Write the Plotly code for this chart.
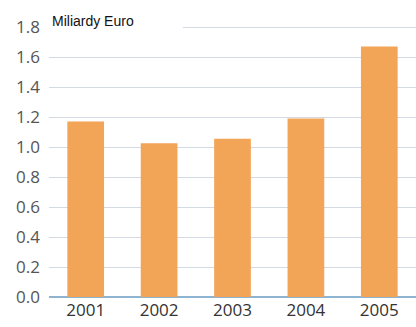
import plotly.graph_objects as go

years = ["2001", "2002", "2003", "2004", "2005"]
values = [1.17, 1.025, 1.055, 1.19, 1.67]
y_ticks = [0.0, 0.2, 0.4, 0.6, 0.8, 1.0, 1.2, 1.4, 1.6, 1.8]
y_tick_labels = ["0.0", "0.2", "0.4", "0.6", "0.8", "1.0", "1.2", "1.4", "1.6", "1.8"]
unit_label = "Miliardy Euro"

fig = go.Figure(go.Bar(
    x=years, y=values,
    marker=dict(color="#F2A457", line=dict(width=0)),
    width=0.5,
))

fig.update_layout(
    width=416, height=327,
    margin=dict(l=49, r=0, t=26, b=30),
    paper_bgcolor="white", plot_bgcolor="white",
    showlegend=False,
    font=dict(family="Open Sans", size=17, color="#555555"),
    xaxis=dict(
        type="category", range=[-0.5, 4.5],
        showgrid=False, showline=False, zeroline=False,
        ticks="", tickfont=dict(size=17, color="#333333"),
        ticklabelstandoff=1,
    ),
    yaxis=dict(
        range=[0, 1.807],
        tickvals=y_ticks, ticktext=y_tick_labels,
        showgrid=True, gridcolor="#D3DAE4", gridwidth=1,
        zeroline=True, zerolinecolor="#8FB4D2", zerolinewidth=1.5,
        showline=False, ticks="",
        tickfont=dict(size=17, color="#555555"),
        ticklabelstandoff=8,
    ),
    shapes=[dict(
        type="rect", xref="paper", yref="paper",
        x0=0, x1=0.365, y0=0.985, y1=1.0,
        fillcolor="white", line=dict(width=0), layer="above",
    )],
    annotations=[dict(
        text=unit_label, xref="paper", yref="paper",
        x=0.002, y=1.018, xanchor="left", yanchor="middle",
        showarrow=False, font=dict(family="Liberation Sans", size=14, color="#111111"),
    )],
)

fig.write_html(
    "out.html",
    config={"displayModeBar": False},
    post_script="document.body.style.margin='0';document.body.style.overflow='hidden';",
)
